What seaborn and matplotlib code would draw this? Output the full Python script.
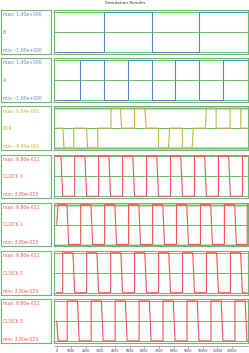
import matplotlib
matplotlib.use("Agg")
import matplotlib.pyplot as plt
import seaborn as sns
import pandas as pd
from matplotlib.ticker import MultipleLocator

# ---------------- data ----------------
signal_names = ["B", "A", "XOR", "CLOCK 0", "CLOCK 1", "CLOCK 2", "CLOCK 3"]
max_labels = ["max: 1.00e+000", "max: 1.00e+000", "max: 9.84e-001",
              "max: 9.80e-022", "max: 9.80e-022", "max: 9.80e-022", "max: 9.80e-022"]
min_labels = ["min: -1.00e+000", "min: -1.00e+000", "min: -9.84e-001",
              "min: 3.80e-023", "min: 3.80e-023", "min: 3.80e-023", "min: 3.80e-023"]
sig_max = [1.0, 1.0, 0.984, 9.8e-22, 9.8e-22, 9.8e-22, 9.8e-22]
sig_min = [-1.0, -1.0, -0.984, 3.8e-23, 3.8e-23, 3.8e-23, 3.8e-23]

b_t = [0, 3250, 3250, 6500, 6500, 9750, 9750, 13050]
b_v = [-1, -1, 1, 1, -1, -1, 1, 1]

a_t = [0, 1625, 1625, 3250, 3250, 4875, 4875, 6500, 6500, 8125, 8125, 9750, 9750,
       11375, 11375, 13050]
a_v = [-1, -1, 1, 1, -1, -1, 1, 1, -1, -1, 1, 1, -1, -1, 1, 1]

xor_t = [0, 420, 500, 1165, 1165, 2040, 2120, 2805, 2805, 3715, 3715, 4360, 4440,
         5330, 5330, 6040, 6120, 6960, 6960, 7650, 7730, 8600, 8600, 9270, 9350,
         10170, 10250, 10910, 10910, 11870, 11870, 12600, 12600, 13050]
xor_v = [0, 0, -0.984, -0.984, 0, 0, -0.984, -0.984, 0, 0, 0.984, 0.984, 0,
         0, 0.984, 0.984, 0, 0, -0.984, -0.984, 0, 0, -0.984, -0.984, 0,
         0, 0.984, 0.984, 0, 0, 0.984, 0.984, 0, 0]

HI, LO, MI = 9.8e-22, 3.8e-23, 5.09e-22

clk0_t = [0, 290, 410, 1230, 1230, 1930, 2050, 2870, 2870, 3570, 3690, 4510, 4510,
          5210, 5330, 6150, 6150, 6850, 6970, 7790, 7790, 8490, 8610, 9430, 9430,
          10130, 10250, 11070, 11070, 11770, 11890, 12710, 12710, 13050]
clk0_v = [HI, HI, LO, LO, HI, HI, LO, LO, HI, HI, LO, LO, HI,
          HI, LO, LO, HI, HI, LO, LO, HI, HI, LO, LO, HI,
          HI, LO, LO, HI, HI, LO, LO, HI, HI]

clk1_t = [0, 100, 700, 820, 1640, 1640, 2340, 2460, 3280, 3280, 3980, 4100, 4920,
          4920, 5620, 5740, 6560, 6560, 7260, 7380, 8200, 8200, 8900, 9020, 9840,
          9840, 10540, 10660, 11480, 11480, 12180, 12300, 13040, 13040, 13050]
clk1_v = [MI, HI, HI, LO, LO, HI, HI, LO, LO, HI, HI, LO, LO,
          HI, HI, LO, LO, HI, HI, LO, LO, HI, HI, LO, LO,
          HI, HI, LO, LO, HI, HI, LO, LO, HI, HI]

clk2_t = [0, 410, 410, 1110, 1230, 2050, 2050, 2750, 2870, 3690, 3690, 4390, 4510,
          5330, 5330, 6030, 6150, 6970, 6970, 7670, 7790, 8610, 8610, 9310, 9430,
          10250, 10250, 10950, 11070, 11890, 11890, 12590, 12710, 13050]
clk2_v = [LO, LO, HI, HI, LO, LO, HI, HI, LO, LO, HI, HI, LO,
          LO, HI, HI, LO, LO, HI, HI, LO, LO, HI, HI, LO,
          LO, HI, HI, LO, LO, HI, HI, LO, LO]

clk3_t = [0, 100, 720, 720, 1420, 1540, 2360, 2360, 3060, 3180, 4000, 4000, 4700,
          4820, 5640, 5640, 6340, 6460, 7280, 7280, 7980, 8100, 8920, 8920, 9620,
          9740, 10560, 10560, 11260, 11380, 12200, 12200, 12900, 13020, 13050]
clk3_v = [MI, LO, LO, HI, HI, LO, LO, HI, HI, LO, LO, HI, HI,
          LO, LO, HI, HI, LO, LO, HI, HI, LO, LO, HI, HI,
          LO, LO, HI, HI, LO, LO, HI, HI, LO, LO]

series_t = [b_t, a_t, xor_t, clk0_t, clk1_t, clk2_t, clk3_t]
series_v = [b_v, a_v, xor_v, clk0_v, clk1_v, clk2_v, clk3_v]

x_ticks = list(range(0, 13000, 1000))

# ---------------- styling ----------------
sns.set_style("white")
plt.rcParams["font.family"] = ["DejaVu Sans"]

BLUE = "#6084d2"
OLIVE = "#b9bb3e"
RED = "#f45656"
GREEN = "#6fb86f"
LIGHT = "#c6e4c6"
colors = [BLUE, BLUE, OLIVE, RED, RED, RED, RED]
bands = [False, False, True, False, True, False, False]

W, H = 249, 353
fig = plt.figure(figsize=(W / 100, H / 100), dpi=100)


def rect(x, y, w, h):
    return [x / W, 1 - (y + h) / H, w / W, h / H]


XMIN, XMAX = -185, 13060
row_h = 43.5
for i in range(7):
    top = 10 + 48.2 * i
    # label box
    lab = fig.add_axes(rect(1, top, 49.5, row_h))
    lab.set_xticks([]); lab.set_yticks([])
    for s in lab.spines.values():
        s.set_color(GREEN); s.set_linewidth(0.8)
    c = colors[i]
    lab.text(0.04, 0.89, max_labels[i], color=c, fontsize=3.3, va="center", ha="left",
             transform=lab.transAxes)
    lab.text(0.04, 0.49, signal_names[i], color=c, fontsize=3.3, va="center", ha="left",
             transform=lab.transAxes)
    lab.text(0.04, 0.08, min_labels[i], color=c, fontsize=3.3, va="center", ha="left",
             transform=lab.transAxes)

    # waveform panel
    ax = fig.add_axes(rect(54, top, 193.5, row_h))
    vmin, vmax = sig_min[i], sig_max[i]
    span = vmax - vmin
    mid = (vmin + vmax) / 2
    ax.set_xlim(XMIN, XMAX)
    ax.set_ylim(vmin - 0.045 * span, vmax + 0.045 * span)
    if bands[i]:
        ax.axhline(vmax, color=LIGHT, lw=2.4, zorder=1)
        ax.axhline(vmin, color=LIGHT, lw=2.4, zorder=1)
    for lvl in (vmin, mid, vmax):
        ax.axhline(lvl, color=GREEN, lw=0.7, zorder=2)
    df = pd.DataFrame({"t": series_t[i], "v": series_v[i]})
    sns.lineplot(data=df, x="t", y="v", ax=ax, color=c, lw=0.8, sort=False,
                 estimator=None, legend=False, zorder=3)
    ax.set_xticks([]); ax.set_yticks([])
    ax.set_xlabel(""); ax.set_ylabel("")
    for s in ax.spines.values():
        s.set_color(GREEN); s.set_linewidth(0.8)

# x axis
xa = fig.add_axes(rect(54, 345.5, 193.5, 0.01))
xa.set_xlim(XMIN, XMAX)
xa.set_yticks([])
for k in ("top", "left", "right"):
    xa.spines[k].set_visible(False)
xa.spines["bottom"].set_color("#777777")
xa.spines["bottom"].set_linewidth(0.4)
xa.set_xticks(x_ticks)
xa.set_xticklabels([str(v) for v in x_ticks], fontsize=2.3, color="#333333")
xa.xaxis.set_minor_locator(MultipleLocator(200))
xa.tick_params(axis="x", which="major", length=1.6, width=0.4, pad=0.6, colors="#555555",
               labelcolor="#333333", bottom=True)
xa.tick_params(axis="x", which="minor", length=0.9, width=0.3, colors="#777777", bottom=True)

fig.text(125 / W, 1 - 3.5 / H, "Simulation Results", fontsize=3.2, ha="center", va="center",
         color="#333333")

fig.savefig("out.png", dpi=100)
